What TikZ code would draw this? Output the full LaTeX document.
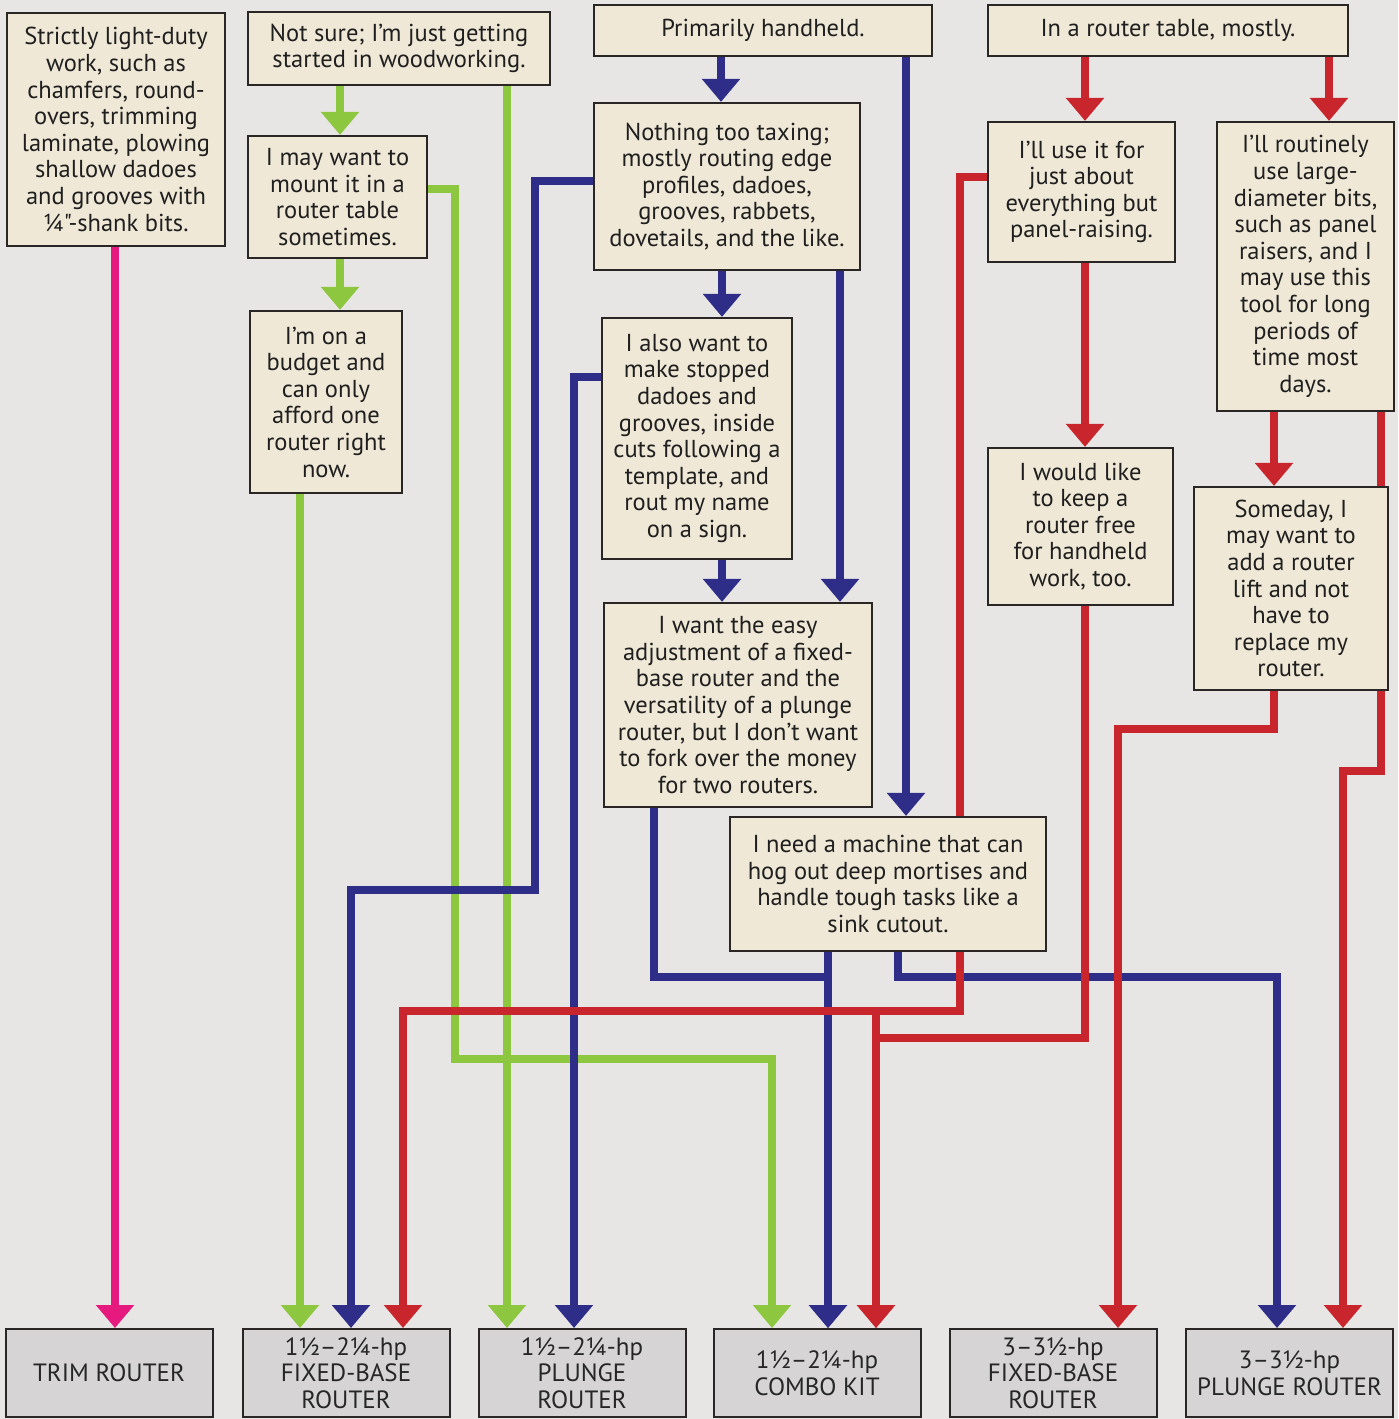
\documentclass[tikz,border=0pt]{standalone}
\usepackage{fontspec}
\setmainfont{PT Sans}[Ligatures=TeXOff]
\usetikzlibrary{arrows.meta}
\pgfdeclarelayer{back}
\pgfdeclarelayer{lines}
\pgfsetlayers{back,lines,main}
\definecolor{bgc}{HTML}{E8E6E5}
\definecolor{boxc}{HTML}{EFE8D6}
\definecolor{endc}{HTML}{D6D4D4}
\definecolor{gc}{HTML}{8DC63F}
\definecolor{bc}{HTML}{2E2D88}
\definecolor{rc}{HTML}{C9252C}
\definecolor{pc}{HTML}{E5197E}
\definecolor{edgec}{HTML}{2A2626}
\begin{document}
\begin{tikzpicture}[x=1pt,y=-1pt,
  q/.style={draw=edgec, line width=2.2pt, fill=boxc, inner sep=0pt, align=center,
    text=black!88, font=\fontsize{24.5}{26.6}\selectfont},
  res/.style={draw=edgec, line width=2pt, fill=endc, inner sep=0pt, align=center,
    text=black!85, font=\fontsize{25}{26.5}\selectfont, minimum width=207pt, minimum height=88pt},
  con/.style={line width=7.5pt, line join=miter},
  arr/.style={con, -{Triangle[width=37pt,length=23pt]}},
  gl/.style={arr, draw=gc},
  bl/.style={arr, draw=bc},
  rl/.style={arr, draw=rc},
  pl/.style={arr, draw=pc}]
\begin{pgfonlayer}{back}
\fill[bgc] (0,0) rectangle (1398,1419);
\end{pgfonlayer}
\useasboundingbox (0,0) rectangle (1398,1419);

% question boxes
\node[q, minimum width=218pt, minimum height=233pt] (A) at (116,129.5)
  {Strictly light-duty\\work, such as\\chamfers, round-\\overs, trimming\\laminate, plowing\\shallow dadoes\\and grooves with\\¼"-shank bits.};
\node[q, minimum width=302pt, minimum height=73pt] (B) at (399,48.5)
  {Not sure; I’m just getting\\started in woodworking.};
\node[q, minimum width=179pt, minimum height=122pt] (C) at (337.5,197)
  {I may want to\\mount it in a\\router table\\sometimes.};
\node[q, minimum width=152pt, minimum height=182pt] (D) at (326,402)
  {I’m on a\\budget and\\can only\\afford one\\router right\\now.};
\node[q, minimum width=338pt, minimum height=51pt] (E) at (763,30.5)
  {Primarily handheld.};
\node[q, minimum width=266pt, minimum height=167pt] (F) at (727,186.5)
  {Nothing too taxing;\\mostly routing edge\\profiles, dadoes,\\grooves, rabbets,\\dovetails, and the like.};
\node[q, minimum width=190pt, minimum height=241pt] (G) at (697,438.5)
  {I also want to\\make stopped\\dadoes and\\grooves, inside\\cuts following a\\template, and\\rout my name\\on a sign.};
\node[q, minimum width=268pt, minimum height=204pt] (H) at (738,705)
  {I want the easy\\adjustment of a fixed-\\base router and the\\versatility of a plunge\\router, but I don’t want\\to fork over the money\\for two routers.};
\node[q, minimum width=316pt, minimum height=134pt] (I) at (888,884)
  {I need a machine that can\\hog out deep mortises and\\handle tough tasks like a\\sink cutout.};
\node[q, minimum width=360pt, minimum height=51pt] (J) at (1168,30.5)
  {In a router table, mostly.};
\node[q, minimum width=187pt, minimum height=140pt] (K) at (1081.5,192)
  {I’ll use it for\\just about\\everything but\\panel-raising.};
\node[q, minimum width=177pt, minimum height=289pt] (L) at (1305.5,266.5)
  {I’ll routinely\\use large-\\diameter bits,\\such as panel\\raisers, and I\\may use this\\tool for long\\periods of\\time most\\days.};
\node[q, minimum width=185pt, minimum height=157pt] (M) at (1080.5,526.5)
  {I would like\\to keep a\\router free\\for handheld\\work, too.};
\node[q, minimum width=194pt, minimum height=203pt] (N) at (1291,588.5)
  {Someday, I\\may want to\\add a router\\lift and not\\have to\\replace my\\router.};

% result boxes
\node[res] (T1) at (109,1373) {TRIM ROUTER};
\node[res] (T2) at (346,1373) {1½–2¼-hp\\FIXED-BASE\\ROUTER};
\node[res] (T3) at (582,1373) {1½–2¼-hp\\PLUNGE\\ROUTER};
\node[res] (T4) at (817,1373) {1½–2¼-hp\\COMBO KIT};
\node[res] (T5) at (1053,1373) {3–3½-hp\\FIXED-BASE\\ROUTER};
\node[res] (T6) at (1289.5,1373) {3–3½-hp\\PLUNGE ROUTER};

\begin{pgfonlayer}{lines}
% green
\draw[gl] (B.south -| 340,0) -- (C.north -| 340,0);
\draw[gl] (C.south -| 340,0) -- (D.north -| 340,0);
\draw[gl] (D.south -| 300,0) -- (T2.north -| 300,0);
\draw[gl] (C.east |- 0,189) -- (455,189) -- (455,1059) -- (772,1059) -- (T4.north -| 772,0);
\draw[gl] (B.south -| 507,0) -- (T3.north -| 507,0);
% blue
\draw[bl] (E.south -| 721,0) -- (F.north -| 721,0);
\draw[bl] (F.south -| 722,0) -- (G.north -| 722,0);
\draw[bl] (G.south -| 722,0) -- (H.north -| 722,0);
\draw[bl] (E.south -| 906,0) -- (I.north -| 906,0);
\draw[bl] (F.south -| 840,0) -- (H.north -| 840,0);
\draw[bl] (F.west |- 0,181) -- (535,181) -- (535,890) -- (351,890) -- (T2.north -| 351,0);
\draw[bl] (G.west |- 0,377) -- (574,377) -- (T3.north -| 574,0);
\draw[bl] (H.south -| 654,0) -- (654,977) -- (828,977) -- (T4.north -| 828,0);
\draw[bl] (I.south -| 828,0) -- (T4.north -| 828,0);
\draw[bl] (I.south -| 898,0) -- (898,977) -- (1277,977) -- (T6.north -| 1277,0);
% red
\draw[rl] (J.south -| 1085,0) -- (K.north -| 1085,0);
\draw[rl] (J.south -| 1329,0) -- (L.north -| 1329,0);
\draw[rl] (K.south -| 1085,0) -- (M.north -| 1085,0);
\draw[rl] (L.south -| 1274,0) -- (N.north -| 1274,0);
\draw[rl] (K.west |- 0,177) -- (960,177) -- (960,1011) -- (403,1011) -- (T2.north -| 403,0);
\draw[rl] (K.west |- 0,177) -- (960,177) -- (960,1011) -- (876,1011) -- (T4.north -| 876,0);
\draw[rl] (M.south -| 1085,0) -- (1085,1038) -- (876,1038) -- (T4.north -| 876,0);
\draw[rl] (N.south -| 1274,0) -- (1274,729) -- (1118,729) -- (T5.north -| 1118,0);
\draw[rl] (L.south -| 1381,0) -- (1381,771) -- (1343,771) -- (T6.north -| 1343,0);
% pink
\draw[pl] (A.south -| 115,0) -- (T1.north -| 115,0);
\end{pgfonlayer}
\end{tikzpicture}
\end{document}
